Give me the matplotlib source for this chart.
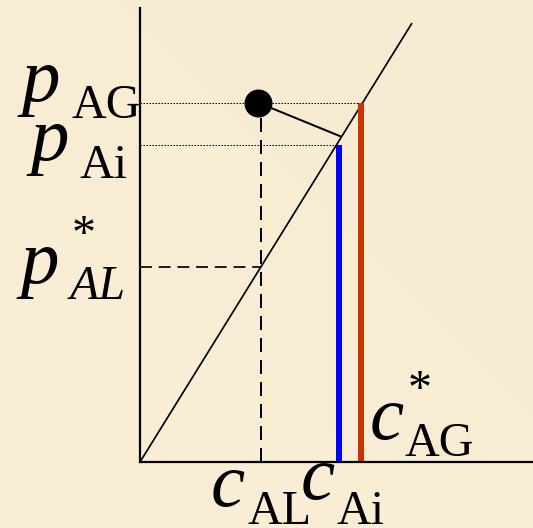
import numpy as np
import matplotlib
matplotlib.use("Agg")
import matplotlib.pyplot as plt

# equilibrium line p = H c and the concentrations / partial pressures marked on it
henry = 1.612
c_line = [0.0, 2.72]

c_AL = 1.21
c_Ai = 1.99
c_AG_star = 2.21

p_AL_star = 1.95
p_Ai = 3.165
p_AG = 3.59

# bulk state (c, p) and where the tie line meets the equilibrium curve
bulk = (1.18, 3.59)
tie_end = (2.00, 3.255)

serif = "Liberation Serif"
big = 77
small = 48


def label(ax, xy, text, dx, dy, size, style="normal"):
	ax.annotate(text, xy=xy, xycoords="data", xytext=(dx, dy), textcoords="offset points",
		ha="left", va="baseline", fontsize=size, fontstyle=style, family=serif,
		annotation_clip=False)


fig = plt.figure(figsize=(533 / 72, 528 / 72), dpi=72)

# soft cream background
bg = fig.add_axes([0, 0, 1, 1], zorder=-1)
yy, xx = np.mgrid[0:1:200j, 0:1:200j]
t = (xx + (1 - yy)) / 2
c0 = np.array([0.988, 0.937, 0.843])
c1 = np.array([0.965, 0.918, 0.820])
img = c0 * (1 - t[..., None]) + c1 * t[..., None]
bg.imshow(img, extent=[0, 1, 0, 1], aspect="auto", origin="upper")
bg.axis("off")

ax = fig.add_axes([140 / 533, 66 / 528, 393 / 533, 454 / 528])
ax.set_facecolor("none")
ax.set_xlim(0, 3.93)
ax.set_ylim(0, 4.535)
for side in ["top", "right"]:
	ax.spines[side].set_visible(False)
for side in ["left", "bottom"]:
	ax.spines[side].set_linewidth(2.2)
	ax.spines[side].set_color("black")
ax.set_xticks([])
ax.set_yticks([])

# equilibrium line
c_arr = np.array(c_line)
ax.plot(c_arr, henry * c_arr, color="black", lw=1.7, solid_capstyle="butt")

# guide lines
ax.hlines(p_AG, 0, c_AG_star, colors="black", lw=1, linestyles=(0, (1.5, 1.5)))
ax.hlines(p_Ai, 0, c_Ai, colors="black", lw=1, linestyles=(0, (1.5, 1.5)))
ax.hlines(p_AL_star, 0, c_AL, colors="black", lw=1.7, linestyles=(0, (7, 4)))
ax.vlines(c_AL, 0, p_AG, colors="black", lw=2, linestyles=(0, (7, 4)))

# driving-force bars
ax.vlines(c_Ai, 0, p_Ai, colors="#0000ff", lw=6)
ax.vlines(c_AG_star, 0, p_AG, colors="#cc3300", lw=6)

# tie line from the bulk state to the interface
ax.plot([bulk[0], tie_end[0]], [bulk[1], tie_end[1]], color="black", lw=2)
ax.plot(bulk[0], bulk[1], "o", color="black", ms=27, zorder=5)

# pressure labels
label(ax, (0, p_AG), "p", -118, 2, big, "italic")
label(ax, (0, p_AG), "AG", -68, -15, small)
label(ax, (0, p_Ai), "p", -109, -15, big, "italic")
label(ax, (0, p_Ai), "Ai", -60, -33, small)
label(ax, (0, p_AL_star), "*", -68, 19, small)
label(ax, (0, p_AL_star), "p", -119, -16, big, "italic")
label(ax, (0, p_AL_star), "AL", -70, -32, small, "italic")

# concentration labels
label(ax, (c_AL, 0), "c", -50, -44, big, "italic")
label(ax, (c_AL, 0), "AL", -14, -62, small)
label(ax, (c_Ai, 0), "c", -38, -37, big, "italic")
label(ax, (c_Ai, 0), "Ai", -2.5, -62, small)
label(ax, (c_AG_star, 0), "c", 9, 23, big, "italic")
label(ax, (c_AG_star, 0), "*", 47, 59, small)
label(ax, (c_AG_star, 0), "AG", 43.5, 6, small)

fig.savefig("out.png", dpi=72)
